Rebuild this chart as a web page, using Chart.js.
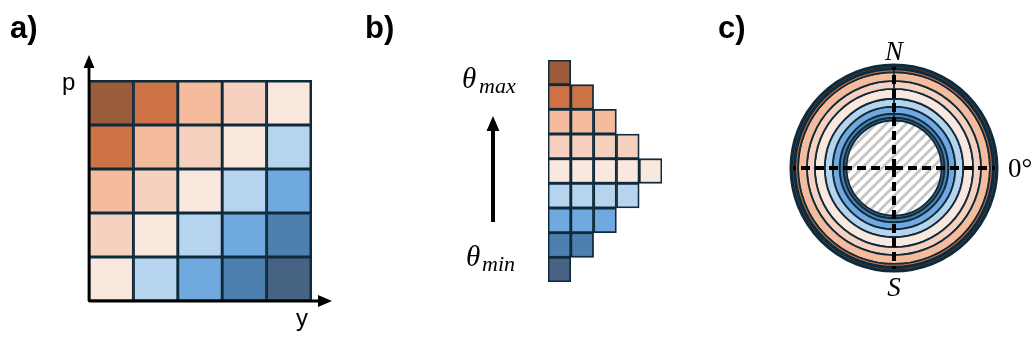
<!DOCTYPE html>
<html>
<head>
<meta charset="utf-8">
<script src="https://cdn.jsdelivr.net/npm/chart.js@4/dist/chart.umd.min.js"></script>
<style>
html, body { margin: 0; padding: 0; background: #fff; }
#wrap { position: relative; width: 1035px; height: 345px; }
.panel { position: absolute; top: 0; width: 345px; height: 345px; }
</style>
</head>
<body>
<div id="wrap">
  <div class="panel" style="left:0"><canvas id="grid" width="345" height="345"></canvas></div>
  <div class="panel" style="left:345px"><canvas id="stair" width="345" height="345"></canvas></div>
  <div class="panel" style="left:690px"><canvas id="rings" width="345" height="345"></canvas></div>
</div>
<script>
// 9 colour levels, theta max (brown) down to theta min (blue)
const levelColors = ['#9A5C3B', '#CD7244', '#F4BB9C', '#F6D1BF', '#FAE8DF', '#B7D4EE', '#70A9DF', '#4D7FAF', '#466384'];
const lineColor = '#0F2A3A';

// panel a: level of each cell, top row first
const gridCols = ['y1', 'y2', 'y3', 'y4', 'y5'];
const gridLevels = [
  [0, 1, 2, 3, 4],
  [1, 2, 3, 4, 5],
  [2, 3, 4, 5, 6],
  [3, 4, 5, 6, 7],
  [4, 5, 6, 7, 8]
];

// panel b: how many cells sit in each level row (top = theta max)
const stairRows = ['0', '1', '2', '3', '4', '5', '6', '7', '8'];
const stairCounts = [1, 2, 3, 4, 5, 4, 3, 2, 1];

// panel c: thickness of each level ring (outer first) and of the hatched core
const ringWeights = [3.5, 3.5, 9, 8, 10, 8, 7, 4, 3];
const coreWeight = 48;

Chart.defaults.animation = false;
Chart.defaults.events = [];

const noLegend = { legend: { display: false }, tooltip: { enabled: false } };

function arrowHead(ctx, x, y, dir, len, half) {
  ctx.beginPath();
  if (dir === 'up') {
    ctx.moveTo(x, y); ctx.lineTo(x - half, y + len); ctx.lineTo(x + half, y + len);
  } else {
    ctx.moveTo(x, y); ctx.lineTo(x - len, y - half); ctx.lineTo(x - len, y + half);
  }
  ctx.closePath();
  ctx.fill();
}

// ---- panel a ----
const gridDecor = {
  id: 'gridDecor',
  afterDatasetsDraw(chart) {
    const { ctx, chartArea: a } = chart;
    ctx.save();
    // outer frame of the grid
    ctx.strokeStyle = lineColor;
    ctx.lineWidth = 2;
    ctx.strokeRect(a.left, a.top, a.right - a.left, a.bottom - a.top);
    ctx.strokeStyle = '#000';
    ctx.fillStyle = '#000';
    ctx.lineWidth = 2.8;
    ctx.beginPath();
    ctx.moveTo(a.left, a.bottom); ctx.lineTo(a.left, a.top - 14);
    ctx.moveTo(a.left, a.bottom); ctx.lineTo(a.right + 10, a.bottom);
    ctx.stroke();
    arrowHead(ctx, a.left, a.top - 26, 'up', 13, 5.5);
    arrowHead(ctx, a.right + 21, a.bottom, 'right', 14, 6);
    ctx.font = '24px "Liberation Sans"';
    ctx.fillText('p', 62, 90);
    ctx.fillText('y', 296, 326);
    ctx.font = 'bold 31px "Liberation Sans"';
    ctx.fillText('a)', 10, 38);
    ctx.restore();
  }
};

const gridDatasets = gridLevels.slice().reverse().map((row, i) => ({
  label: 'row ' + (i + 1),
  data: row.map(() => 1),
  backgroundColor: row.map(l => levelColors[l]),
  borderColor: lineColor,
  borderWidth: 1.8,
  borderSkipped: false,
  barPercentage: 1,
  categoryPercentage: 1
}));

new Chart(document.getElementById('grid'), {
  type: 'bar',
  data: { labels: gridCols, datasets: gridDatasets },
  options: {
    responsive: false,
    layout: { padding: { left: 89, top: 81, right: 34, bottom: 44 } },
    scales: {
      x: { display: false, stacked: true },
      y: { display: false, stacked: true, min: 0, max: 5 }
    },
    plugins: noLegend
  },
  plugins: [gridDecor]
});

// ---- panel b ----
const stairDecor = {
  id: 'stairDecor',
  afterDatasetsDraw(chart) {
    const { ctx } = chart;
    ctx.save();
    ctx.strokeStyle = '#000';
    ctx.fillStyle = '#000';
    ctx.lineWidth = 4;
    ctx.beginPath();
    ctx.moveTo(148, 222); ctx.lineTo(148, 128);
    ctx.stroke();
    arrowHead(ctx, 148, 116, 'up', 15, 6.5);
    ctx.font = 'italic 29px "Liberation Serif"';
    ctx.fillText('\u03b8', 117, 88);
    ctx.fillText('\u03b8', 121, 266);
    ctx.font = 'italic 22px "Liberation Serif"';
    ctx.fillText('max', 134, 93);
    ctx.fillText('min', 137, 271);
    ctx.font = 'bold 31px "Liberation Sans"';
    ctx.fillText('b)', 20, 38);
    ctx.restore();
  }
};

const stairDatasets = [0, 1, 2, 3, 4].map(c => ({
  label: 'col ' + (c + 1),
  data: stairCounts.map(n => (n > c ? 1 : null)),
  backgroundColor: levelColors,
  borderColor: lineColor,
  borderWidth: 1.8,
  borderSkipped: false,
  barPercentage: 1,
  categoryPercentage: 1
}));

new Chart(document.getElementById('stair'), {
  type: 'bar',
  data: { labels: stairRows, datasets: stairDatasets },
  options: {
    responsive: false,
    indexAxis: 'y',
    layout: { padding: { left: 203, top: 60, right: 28, bottom: 63 } },
    scales: {
      x: { display: false, stacked: true, min: 0, max: 5 },
      y: { display: false, stacked: true }
    },
    plugins: noLegend
  },
  plugins: [stairDecor]
});

// ---- panel c ----
const ringCanvas = document.getElementById('rings');

function makeHatch(ctx) {
  const c = document.createElement('canvas');
  c.width = 10; c.height = 10;
  const g = c.getContext('2d');
  g.fillStyle = '#fff';
  g.fillRect(0, 0, 10, 10);
  g.strokeStyle = '#C4C4C4';
  g.lineWidth = 2.8;
  g.beginPath();
  g.moveTo(-2, 12); g.lineTo(12, -2);
  g.moveTo(-2, 2); g.lineTo(2, -2);
  g.moveTo(8, 12); g.lineTo(12, 8);
  g.stroke();
  return ctx.createPattern(c, 'repeat');
}

const ringDecor = {
  id: 'ringDecor',
  afterDatasetsDraw(chart) {
    const { ctx } = chart;
    const arc = chart.getDatasetMeta(0).data[0];
    const cx = arc.x, cy = arc.y, r = arc.outerRadius - 2;
    ctx.save();
    ctx.strokeStyle = '#000';
    ctx.lineWidth = 4;
    ctx.setLineDash([9, 5]);
    ctx.beginPath();
    [[0, -1], [0, 1], [-1, 0], [1, 0]].forEach(([dx, dy]) => {
      ctx.moveTo(cx, cy);
      ctx.lineTo(cx + dx * r, cy + dy * r);
    });
    ctx.stroke();
    ctx.setLineDash([]);
    ctx.fillStyle = '#000';
    ctx.textAlign = 'center';
    ctx.font = 'italic 27px "Liberation Serif"';
    ctx.fillText('N', cx, cy - r - 7);
    ctx.fillText('S', cx, cy + r + 27);
    ctx.textAlign = 'left';
    ctx.font = '27px "Liberation Serif"';
    ctx.fillText('0\u00b0', cx + r + 13, cy + 9);
    ctx.font = 'bold 31px "Liberation Sans"';
    ctx.fillText('c)', 28, 38);
    ctx.restore();
  }
};

const ringDatasets = ringWeights.map((w, i) => ({
  label: 'level ' + i,
  data: [1],
  backgroundColor: levelColors[i],
  borderColor: lineColor,
  borderWidth: i === 0 ? 3.2 : 1.8,
  weight: w,
  hoverOffset: 0
}));
ringDatasets.push({
  label: 'core',
  data: [1],
  backgroundColor: makeHatch(ringCanvas.getContext('2d')),
  borderWidth: 0,
  weight: coreWeight,
  hoverOffset: 0
});

new Chart(ringCanvas, {
  type: 'doughnut',
  data: { labels: ['ring'], datasets: ringDatasets },
  options: {
    responsive: false,
    cutout: 0,
    layout: { padding: { left: 99.5, top: 63.5, right: 36.5, bottom: 72.5 } },
    plugins: noLegend
  },
  plugins: [ringDecor]
});
</script>
</body>
</html>
